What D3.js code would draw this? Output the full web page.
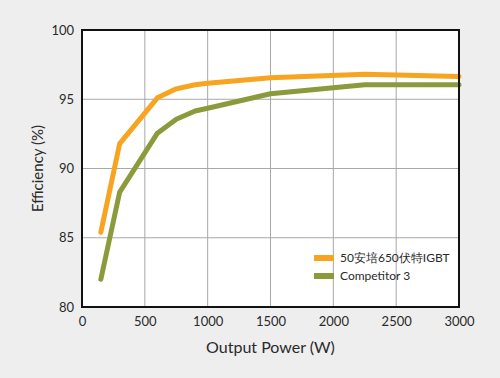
<!DOCTYPE html>
<html><head><meta charset="utf-8">
<script src="https://cdn.jsdelivr.net/npm/d3@7"></script>
<style>
body{margin:0;background:#eeeeee;}
svg{display:block;}
text{font-family:"Lato","DejaVu Sans",sans-serif;fill:#2a2a2a;}
</style></head>
<body>
<script>
const seriesNames = ["50安培650伏特IGBT", "Competitor 3"];
const seriesColors = ["#f7a520", "#8b9b3c"];
const powerA = [150, 300, 600, 750, 900, 1000, 1500, 2250, 3000];
const effA = [85.4, 91.8, 95.1, 95.75, 96.05, 96.15, 96.55, 96.8, 96.65];
const powerB = [150, 300, 600, 750, 900, 1000, 1500, 2250, 3000];
const effB = [82.0, 88.3, 92.55, 93.55, 94.15, 94.35, 95.4, 96.05, 96.05];
const xTicks = [0, 500, 1000, 1500, 2000, 2500, 3000];
const yTicks = [80, 85, 90, 95, 100];
const xTitle = "Output Power (W)";
const yTitle = "Efficiency (%)";

const W = 500, H = 378;
const m = {l: 82, r: 41, t: 30, b: 71};
const svg = d3.select("body").append("svg").attr("width", W).attr("height", H);
svg.append("rect").attr("width", W).attr("height", H).attr("fill", "#eeeeee");

const x = d3.scaleLinear().domain([0, 3000]).range([m.l, W - m.r]);
const y = d3.scaleLinear().domain([80, 100]).range([H - m.b, m.t]);

svg.append("rect").attr("x", x(0)).attr("y", y(100))
  .attr("width", x(3000) - x(0)).attr("height", y(80) - y(100)).attr("fill", "#fff");

// grid
svg.append("g").selectAll("line").data(xTicks.slice(1, -1)).join("line")
  .attr("x1", d => x(d)).attr("x2", d => x(d)).attr("y1", y(100)).attr("y2", y(80))
  .attr("stroke", "#a8a8a8").attr("stroke-width", 1);
svg.append("g").selectAll("line").data(yTicks.slice(1, -1)).join("line")
  .attr("y1", d => y(d)).attr("y2", d => y(d)).attr("x1", x(0)).attr("x2", x(3000))
  .attr("stroke", "#a8a8a8").attr("stroke-width", 1);

// lines
const line = d3.line().x(d => x(d[0])).y(d => y(d[1]));
const data = [d3.zip(powerA, effA), d3.zip(powerB, effB)];
svg.append("g").selectAll("path").data(data).join("path")
  .attr("d", line).attr("fill", "none")
  .attr("stroke", (d, i) => seriesColors[i]).attr("stroke-width", 5)
  .attr("stroke-linejoin", "round").attr("stroke-linecap", "round");

// frame
svg.append("rect").attr("x", x(0)).attr("y", y(100))
  .attr("width", x(3000) - x(0)).attr("height", y(80) - y(100))
  .attr("fill", "none").attr("stroke", "#111").attr("stroke-width", 2);

// axes
const xAxis = svg.append("g").attr("transform", `translate(0,${y(80)})`)
  .call(d3.axisBottom(x).tickValues(xTicks).tickSize(0).tickPadding(10).tickFormat(d3.format("d")));
xAxis.select(".domain").remove();
xAxis.selectAll("text").attr("font-size", 13).attr("font-family", "Lato, sans-serif").attr("fill", "#2a2a2a");
const yAxis = svg.append("g").attr("transform", `translate(${x(0)},0)`)
  .call(d3.axisLeft(y).tickValues(yTicks).tickSize(0).tickPadding(8).tickFormat(d3.format("d")));
yAxis.select(".domain").remove();
yAxis.selectAll("text").attr("font-size", 13).attr("font-family", "Lato, sans-serif").attr("fill", "#2a2a2a");

svg.append("text").attr("x", (x(0) + x(3000)) / 2).attr("y", 353)
  .attr("text-anchor", "middle").attr("font-size", 16).text(xTitle);
svg.append("text").attr("transform", `translate(43,${(y(80) + y(100)) / 2}) rotate(-90)`)
  .attr("text-anchor", "middle").attr("font-size", 15).text(yTitle);

// legend
const lg = svg.append("g");
seriesNames.forEach((n, i) => {
  const yy = 258 + i * 18;
  lg.append("rect").attr("x", 314).attr("y", yy - 3).attr("width", 20).attr("height", 6).attr("fill", seriesColors[i]);
  lg.append("text").attr("x", 340).attr("y", yy).attr("dy", "0.35em")
    .attr("font-size", 12).attr("font-family", "Lato, 'Noto Sans CJK SC', sans-serif").text(n);
});
</script>
</body></html>
